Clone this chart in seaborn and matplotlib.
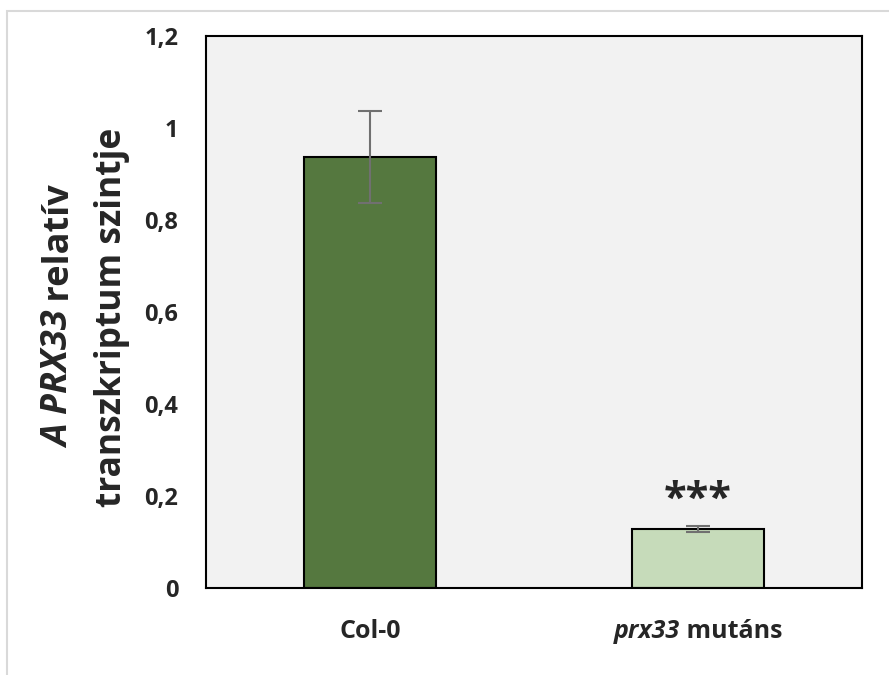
import matplotlib
matplotlib.use("Agg")
import matplotlib.pyplot as plt
import seaborn as sns
import pandas as pd
from matplotlib.patches import Rectangle

categories = ["Col-0", "prx33 mutáns"]
values = [0.937, 0.128]
errors = [0.101, 0.007]
y_ticks = [0, 0.2, 0.4, 0.6, 0.8, 1.0, 1.2]
y_tick_labels = ["0", "0,2", "0,4", "0,6", "0,8", "1", "1,2"]
bar_colors = ["#538135", "#C5E0B4"]
signif = ["", "***"]

sns.set_theme(style="white")
plt.rcParams['font.family'] = ['Open Sans', 'DejaVu Sans']

W, H = 889, 675
fig = plt.figure(figsize=(W / 100, H / 100), dpi=100)
ax = fig.add_axes([206 / W, 1 - 588 / H, (862 - 206) / W, (588 - 36) / H])

# outer frame
fig.patches.append(Rectangle((7 / W, -0.1), 1.2, 1 - 11 / H + 0.1, transform=fig.transFigure,
                             fill=False, edgecolor="#D9D9D9", linewidth=1.5))

df = pd.DataFrame({"cat": categories, "val": values})
sns.barplot(data=df, x="cat", y="val", hue="cat", palette=bar_colors, legend=False,
            width=0.4, edgecolor="black", linewidth=1.5, errorbar=None, ax=ax)
ax.errorbar(range(len(categories)), values, yerr=errors, fmt="none",
            ecolor="#707070", elinewidth=1.5, capsize=8.5, capthick=1.5)
for i, s in enumerate(signif):
    if s:
        ax.text(i, values[i] + errors[i] + 0.055, s, ha="center", va="center",
                fontsize=30, fontweight="bold")

ax.set_facecolor("#F2F2F2")
ax.set_xlim(-0.5, 1.5)
ax.set_ylim(0, 1.2)
ax.set_yticks(y_ticks)
ax.set_yticklabels(y_tick_labels, fontsize=17, fontweight="bold")
ax.tick_params(axis="y", length=0, pad=20)
ax.tick_params(axis="x", length=0)
ax.set_xticks(range(len(categories)))
ax.set_xticklabels([])
ax.set_xlabel("")
ax.set_ylabel("")
for sp in ax.spines.values():
    sp.set_visible(True)
    sp.set_color("black")
    sp.set_linewidth(1.5)

def draw_pieces(fig, pieces, cx, cy, fontsize, rotation=0):
    """pieces: list of (text, style). Centered at (cx, cy) pixels (top-left origin)."""
    renderer = fig.canvas.get_renderer()
    texts = []
    widths = []
    for t, style in pieces:
        tx = fig.text(0, 0, t, fontsize=fontsize, fontweight="bold", fontstyle=style,
                      rotation=rotation, ha="left", va="center", rotation_mode="anchor")
        bb = tx.get_window_extent(renderer)
        widths.append(bb.height if rotation == 90 else bb.width)
        texts.append(tx)
    total = sum(widths)
    pos = -total / 2
    for tx, w in zip(texts, widths):
        if rotation == 90:
            tx.set_position((cx / W, 1 - (cy - (pos)) / H))
        else:
            tx.set_position(((cx + pos) / W, 1 - cy / H))
        pos += w

fig.canvas.draw()
draw_pieces(fig, [("Col-0", "normal")], 370, 632, 18)
draw_pieces(fig, [("prx33", "italic"), (" mutáns", "normal")], 698, 632, 18)
draw_pieces(fig, [("A PRX33", "italic"), (" relatív", "normal")], 60, 316, 26, rotation=90)
draw_pieces(fig, [("transzkriptum szintje", "normal")], 112, 317, 25.5, rotation=90)

fig.savefig("out.png", dpi=100, facecolor="white")
